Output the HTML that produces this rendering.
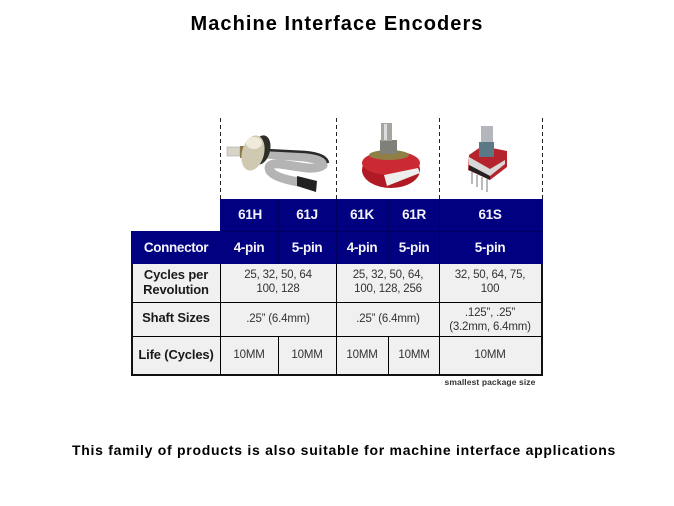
<!DOCTYPE html>
<html>
<head>
<meta charset="utf-8">
<style>
html,body{margin:0;padding:0;background:#fff}
#p{position:relative;width:674px;height:506px;overflow:hidden;background:#fff;font-family:"Liberation Sans",sans-serif}
.t{position:absolute;text-align:center;white-space:nowrap;transform:translateX(-50%)}
.h{color:#f4f4fa;font-weight:bold;font-size:13.5px;line-height:16px;letter-spacing:-.35px}
.l{color:#1a1a1a;font-weight:bold;font-size:13px;line-height:15px;letter-spacing:-.15px}
.v{color:#333;font-size:11.5px;line-height:14px;letter-spacing:-.2px}
.r{position:absolute}
</style>
</head>
<body>
<div id="p">
<div class="t" style="left:337px;top:13px;font-size:20px;line-height:22px;font-weight:bold;color:#000;letter-spacing:1.05px">Machine Interface Encoders</div>

<svg class="r" style="left:0;top:0" width="674" height="506">
<g stroke="#222" stroke-width="1" stroke-dasharray="4 3">
<line x1="220.5" y1="118" x2="220.5" y2="199"/>
<line x1="336.5" y1="118" x2="336.5" y2="199"/>
<line x1="439.5" y1="118" x2="439.5" y2="199"/>
<line x1="542.5" y1="118" x2="542.5" y2="199"/>
</g>
<!-- 61H -->
<path d="M266 154 L305 157 Q324 160 323 165 Q318 170 300 167 L280 164 Q266 163 270 171 Q275 178 299 182" fill="none" stroke="#b4b4b4" stroke-width="9"/>
<path d="M266 150 L305 152 Q327 154 328 163" fill="none" stroke="#2a2a2a" stroke-width="2.5"/>
<path d="M297 176 L317 181 L316 192 L297 186 Z" fill="#222"/>
<rect x="227" y="147" width="13" height="9" fill="#d9d4c8" stroke="#999" stroke-width=".5"/>
<rect x="240" y="146" width="4" height="12" fill="#8a7a4a"/>
<ellipse cx="261" cy="150" rx="9" ry="15" fill="#2e2e28" transform="rotate(15 261 150)"/>
<ellipse cx="253" cy="153" rx="11" ry="18" fill="#cfc9b2" transform="rotate(15 253 153)"/>
<ellipse cx="254" cy="143" rx="8" ry="6" fill="#efeadc"/>
<!-- 61K -->
<ellipse cx="391" cy="170" rx="29" ry="18" fill="#b01a24"/>
<ellipse cx="391" cy="163" rx="29" ry="12" fill="#cc2a33"/>
<ellipse cx="389" cy="155" rx="20" ry="5" fill="#8f7f45"/>
<rect x="380" y="140" width="17" height="14" fill="#80807a"/>
<rect x="381" y="123" width="11" height="18" fill="#a5a59e"/>
<rect x="384" y="124" width="3" height="16" fill="#ddd"/>
<path d="M384 175 L418 168 L420 173 L387 186 Z" fill="#eee"/>
<!-- 61S -->
<path d="M469 155 L482 146 L507 151 L507 167 L490 180 L468 170 Z" fill="#b5242c"/>
<rect x="481" y="126" width="12" height="17" fill="#b4b6bc"/>
<rect x="479" y="142" width="15" height="15" fill="#5b7887"/>
<path d="M469 157 L490 169 L505 160 L505 164 L490 176 L469 165 Z" fill="#d8d8d8"/>
<path d="M469 165 L490 176 L490 180 L469 170 Z" fill="#222"/>
<g stroke="#777" stroke-width="1"><line x1="472" y1="172" x2="472" y2="184"/><line x1="477" y1="175" x2="477" y2="187"/><line x1="482" y1="177" x2="482" y2="190"/><line x1="487" y1="179" x2="487" y2="192"/></g>

<!-- table fills -->
<rect x="220" y="199" width="323" height="33" fill="#000080"/>
<rect x="131" y="231" width="412" height="33" fill="#000080"/>
<rect x="131" y="264" width="411" height="111" fill="#f0f0f0"/>
<g stroke="#000050" stroke-width="1" opacity=".7">
<line x1="278.5" y1="199" x2="278.5" y2="264"/><line x1="336.5" y1="199" x2="336.5" y2="264"/>
<line x1="388.5" y1="199" x2="388.5" y2="264"/><line x1="439.5" y1="199" x2="439.5" y2="264"/>
<line x1="221" y1="231.5" x2="543" y2="231.5"/>
</g>
<g stroke="#000" stroke-width="1">
<line x1="220.5" y1="264" x2="220.5" y2="375"/><line x1="336.5" y1="264" x2="336.5" y2="375"/><line x1="439.5" y1="264" x2="439.5" y2="375"/>
<line x1="278.5" y1="336" x2="278.5" y2="375"/><line x1="388.5" y1="336" x2="388.5" y2="375"/>
<line x1="131" y1="302.5" x2="542" y2="302.5"/><line x1="131" y1="336.5" x2="542" y2="336.5"/>
</g>
<rect x="131" y="264" width="2" height="112" fill="#111"/>
<rect x="131" y="374" width="412" height="2" fill="#111"/>
<rect x="541" y="264" width="2" height="112" fill="#111"/>
</svg>

<div class="t h" style="left:250px;top:207px">61H</div>
<div class="t h" style="left:307px;top:207px">61J</div>
<div class="t h" style="left:362px;top:207px">61K</div>
<div class="t h" style="left:414px;top:207px">61R</div>
<div class="t h" style="left:490px;top:207px">61S</div>
<div class="t h" style="left:176px;top:240px">Connector</div>
<div class="t h" style="left:249px;top:240px">4-pin</div>
<div class="t h" style="left:307px;top:240px">5-pin</div>
<div class="t h" style="left:362px;top:240px">4-pin</div>
<div class="t h" style="left:414px;top:240px">5-pin</div>
<div class="t h" style="left:490px;top:240px">5-pin</div>

<div class="t l" style="left:176px;top:267px">Cycles per<br>Revolution</div>
<div class="t l" style="left:176px;top:310px">Shaft Sizes</div>
<div class="t l" style="left:176px;top:347px">Life (Cycles)</div>

<div class="t v" style="left:278px;top:269px;line-height:13.5px">25, 32, 50, 64<br>100, 128</div>
<div class="t v" style="left:388px;top:269px;line-height:13.5px">25, 32, 50, 64,<br>100, 128, 256</div>
<div class="t v" style="left:490px;top:269px;line-height:13.5px">32, 50, 64, 75,<br>100</div>
<div class="t v" style="left:278px;top:312px">.25” (6.4mm)</div>
<div class="t v" style="left:388px;top:312px">.25” (6.4mm)</div>
<div class="t v" style="left:490px;top:306px">.125”, .25”<br>(3.2mm, 6.4mm)</div>
<div class="t v" style="left:249px;top:348px">10MM</div>
<div class="t v" style="left:307px;top:348px">10MM</div>
<div class="t v" style="left:362px;top:348px">10MM</div>
<div class="t v" style="left:414px;top:348px">10MM</div>
<div class="t v" style="left:490px;top:348px">10MM</div>

<div class="t" style="left:490px;top:377px;font-size:8.5px;line-height:11px;font-weight:bold;color:#333;letter-spacing:.1px">smallest package size</div>
<div class="t" style="left:344px;top:442px;font-size:14px;line-height:16px;font-weight:bold;color:#000;letter-spacing:.73px">This family of products is also suitable for machine interface applications</div>
</div>
</body>
</html>
